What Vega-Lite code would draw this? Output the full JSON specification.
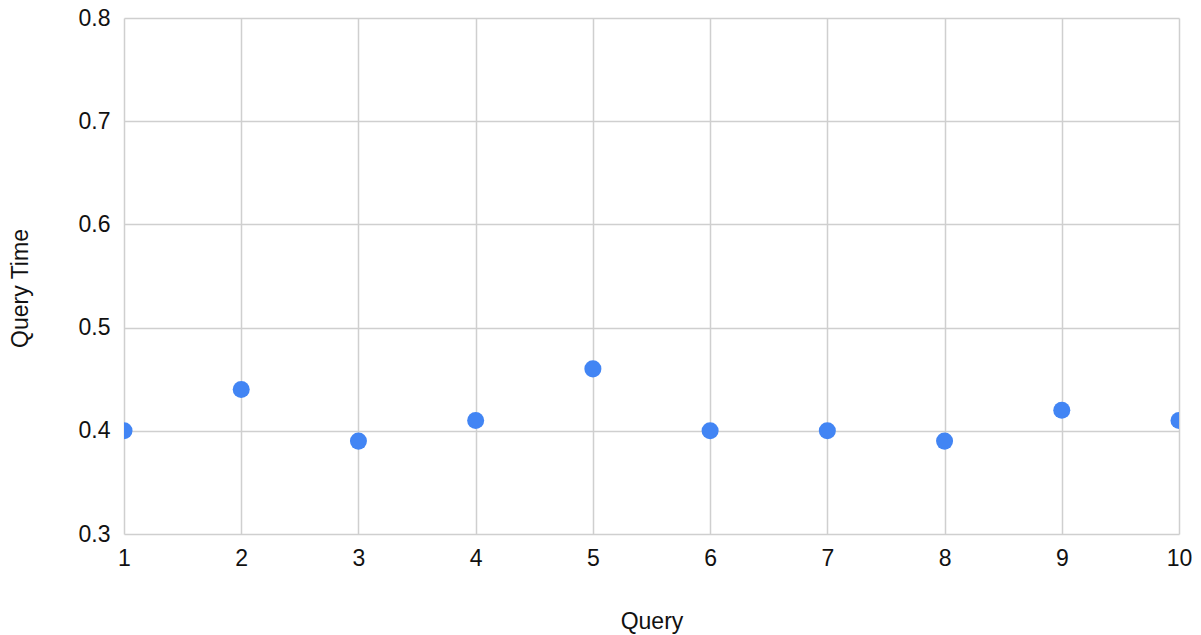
{
  "$schema": "https://vega.github.io/schema/vega-lite/v6.json",
  "width": 1055,
  "height": 516,
  "autosize": {"type": "none"},
  "padding": {"left": 124, "top": 18, "right": 22, "bottom": 101},
  "background": "white",
  "config": {
    "view": {"stroke": null},
    "font": "Liberation Sans",
    "axis": {
      "labelFont": "Liberation Sans",
      "titleFont": "Liberation Sans",
      "labelFontSize": 23,
      "titleFontSize": 23,
      "labelColor": "#111111",
      "titleColor": "#111111",
      "titleFontWeight": "normal",
      "gridColor": "#cfcfcf",
      "gridWidth": 1.5,
      "gridOpacity": 1,
      "domain": false,
      "ticks": false
    }
  },
  "data": {
    "values": [
      {"query": 1, "time": 0.40},
      {"query": 2, "time": 0.44},
      {"query": 3, "time": 0.39},
      {"query": 4, "time": 0.41},
      {"query": 5, "time": 0.46},
      {"query": 6, "time": 0.40},
      {"query": 7, "time": 0.40},
      {"query": 8, "time": 0.39},
      {"query": 9, "time": 0.42},
      {"query": 10, "time": 0.41}
    ]
  },
  "mark": {"type": "point", "filled": true, "opacity": 1, "size": 290, "color": "#4285F4", "clip": true},
  "encoding": {
    "x": {
      "field": "query",
      "type": "quantitative",
      "scale": {"domain": [1, 10], "nice": false, "zero": false},
      "axis": {
        "title": "Query",
        "values": [1, 2, 3, 4, 5, 6, 7, 8, 9, 10],
        "format": "d",
        "labelPadding": 13,
        "labelFlush": false,
        "labelOverlap": false,
        "titleBaseline": "alphabetic",
        "titleY": 94
      }
    },
    "y": {
      "field": "time",
      "type": "quantitative",
      "scale": {"domain": [0.3, 0.8], "nice": false, "zero": false},
      "axis": {
        "title": "Query Time",
        "values": [0.3, 0.4, 0.5, 0.6, 0.7, 0.8],
        "format": ".1f",
        "labelPadding": 14,
        "labelFlush": false,
        "labelOverlap": false,
        "titleAngle": -90,
        "titleBaseline": "alphabetic",
        "titleX": -97,
        "titleY": 270
      }
    }
  }
}
